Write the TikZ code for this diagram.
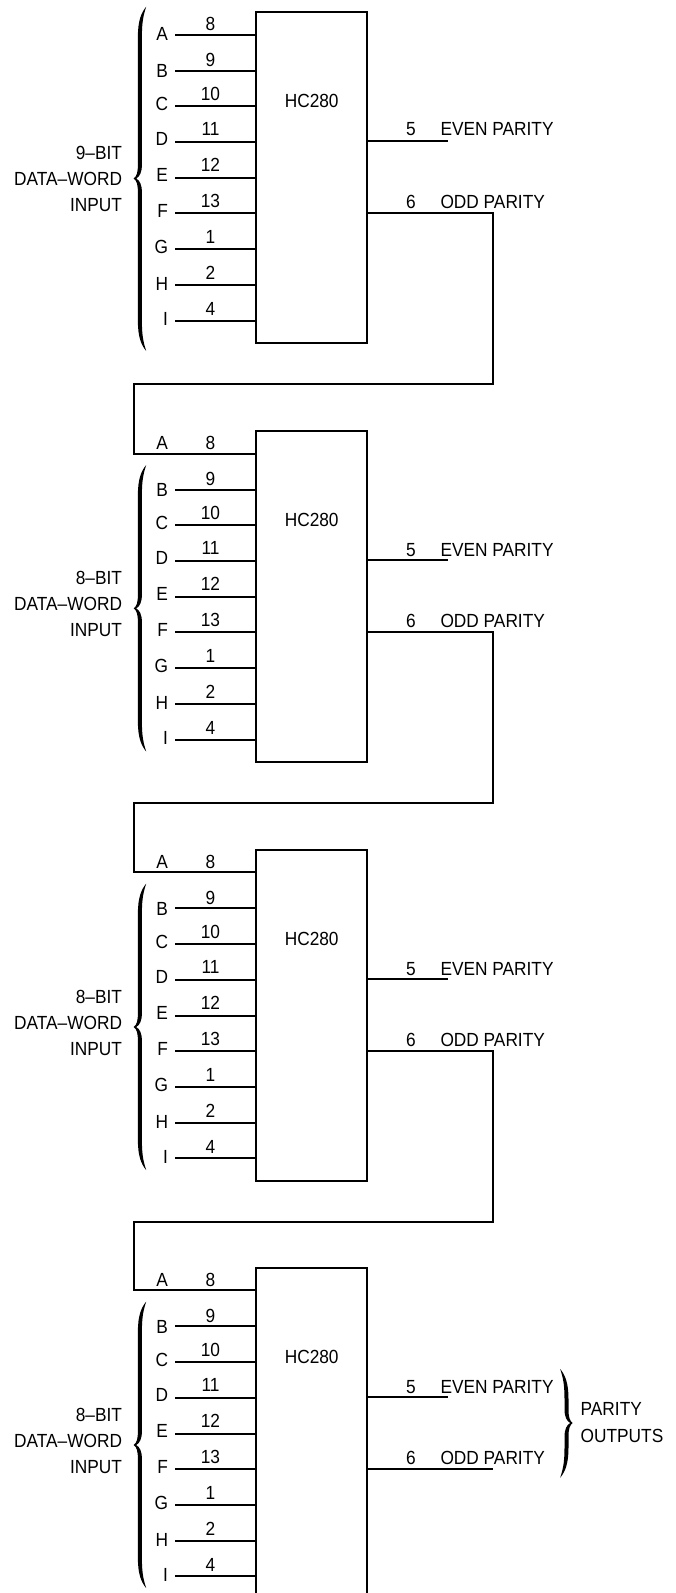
\documentclass[tikz,border=0pt]{standalone}
\usepackage{fontspec}
\setmainfont[FakeStretch=0.91]{Liberation Sans}
\newcommand{\bracepath}[5]{% tip x, direction, top, middle, bottom
  \begin{scope}[shift={(#1,0)},xscale=#2]
    \fill[black] (12.5,#3) .. controls (7.5,{#3+6}) and (4.2,{#3+14}) .. (4.2,{#3+30})
      -- (4.2,{#4-14}) .. controls (4.2,{#4-6}) and (3,{#4-2}) .. (0,#4)
      .. controls (3,{#4+2}) and (4.2,{#4+6}) .. (4.2,{#4+14})
      -- (4.2,{#5-30}) .. controls (4.2,{#5-14}) and (7.5,{#5-6}) .. (12.5,#5)
      .. controls (10,{#5-8}) and (8.2,{#5-14}) .. (8.2,{#5-30})
      -- (8.2,{#4+14}) .. controls (8.2,{#4+6}) and (6,{#4+2}) .. (2.5,#4)
      .. controls (6,{#4-2}) and (8.2,{#4-6}) .. (8.2,{#4-14})
      -- (8.2,{#3+30}) .. controls (8.2,{#3+14}) and (10,{#3+8}) .. (12.5,#3) -- cycle;
  \end{scope}}
\tikzset{
  wire/.style={line width=2pt,line join=miter,line cap=butt},
  chip/.style={draw,line width=2pt,rectangle,inner sep=0pt,outer sep=0pt,minimum width=111pt,minimum height=331pt},
  lbl/.style={inner sep=0pt,outer sep=0pt,font=\fontsize{19}{19}\selectfont,text=black},
}
\begin{document}
\begin{tikzpicture}[x=1pt,y=-1pt]
\useasboundingbox (0,0) rectangle (676,1593);
\clip (0,0) rectangle (676,1593);
\foreach \s/\o/\e in {1/0/135.9,2/419/137.4,3/837.6/137.4,4/1255.6/137.4}{
  \node[chip] (box\s) at (311.5,{\o+177.5}) {};
  \node[lbl,anchor=base] (title\s) at (311.7,{\o+107.6}) {HC280};
  \foreach \p/\n/\y/\cy/\ny in {A/8/34.7/34/24,B/9/70.7/71/60,C/10/106/104/94,D/11/142/139/129,E/12/178/175/165,F/13/213.3/211/201,G/1/249/247/237,H/2/285/284/273,I/4/320.7/319/309}{
    \coordinate (pin\p\s) at (175,{\o+\y});
    \coordinate (end\p\s) at (256,{\o+\y});
    \node[lbl,anchor=base] (num\p\s) at (210.5,{\o+\ny+6.9}) {\n};
    \if\p A\else
      \draw[wire] (pin\p\s) -- (end\p\s);
      \node[lbl,anchor=base east] (let\p\s) at (168,{\o+\cy+6.9}) {\p};
    \fi
  }
  % outputs
  \coordinate (evenS\s) at (367,{\o+141.2});
  \coordinate (evenE\s) at (448,{\o+141.2});
  \coordinate (oddS\s) at (367,{\o+213.4});
  \coordinate (oddE\s) at (493,{\o+213.4});
  \draw[wire] (evenS\s) -- (evenE\s);
  \node[lbl,anchor=base] (n5\s) at (411,{\o+\e}) {5};
  \node[lbl,anchor=base west] (even\s) at (440.5,{\o+\e}) {EVEN PARITY};
  \node[lbl,anchor=base] (n6\s) at (411,{\o+208.7}) {6};
  \node[lbl,anchor=base west] (odd\s) at (440.5,{\o+208.7}) {ODD PARITY};
}
% first A
\draw[wire] (pinA1) -- (endA1);
\node[lbl,anchor=base east] (letA1) at (168,40.9) {A};
% top label and brace
\node[lbl,anchor=base east] (w11) at (122,159.6) {9--BIT};
\node[lbl,anchor=base east] (w12) at (122,185.6) {DATA--WORD};
\node[lbl,anchor=base east] (w13) at (122,211.9) {INPUT};
\bracepath{133.7}{1}{6.7}{178.5}{351}
\foreach \s/\o in {2/419,3/837.6,4/1255.6}{
  \node[lbl,anchor=base east] (letA\s) at (168,{\o+30.4}) {A};
  \node[lbl,anchor=base east] (w1\s) at (122,{\o+165.9}) {8--BIT};
  \node[lbl,anchor=base east] (w2\s) at (122,{\o+191.9}) {DATA--WORD};
  \node[lbl,anchor=base east] (w3\s) at (122,{\o+217.9}) {INPUT};
  \bracepath{133.7}{1}{\o+46}{\o+189.4}{\o+332.5}
}
% cascade connectors
\foreach \s/\t/\o/\q in {1/2/0/419,2/3/419/837.6,3/4/837.6/1255.6}{
  \coordinate (turnR\s) at (493,{\o+384});
  \coordinate (turnL\s) at (133.7,{\o+384});
  \coordinate (startA\t) at (133.7,{\q+34.7});
  \draw[wire] (oddS\s) -- (oddE\s) -- (turnR\s) -- (turnL\s) -- (startA\t) -- (endA\t);
}
\draw[wire] (oddS4) -- (oddE4);
% outputs brace
\bracepath{572.7}{-1}{1369}{1423}{1477.7}
\node[lbl,anchor=base west] (p1) at (580.7,1415.9) {PARITY};
\node[lbl,anchor=base west] (p2) at (580.7,1442.6) {OUTPUTS};
\end{tikzpicture}
\end{document}
